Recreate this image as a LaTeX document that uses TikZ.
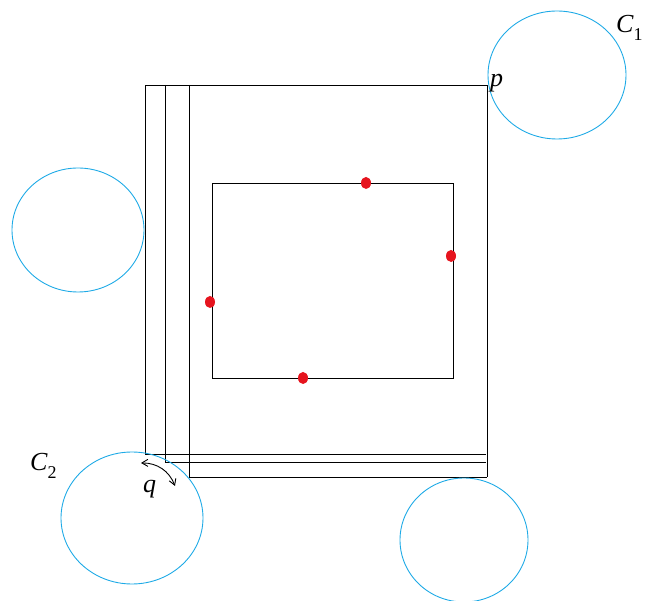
\documentclass[tikz,border=0pt]{standalone}
\usepackage{fontspec}
\setmainfont{Liberation Serif}
\usetikzlibrary{arrows.meta}
\definecolor{cblue}{RGB}{30,170,230}
\definecolor{dotred}{RGB}{230,20,30}
\tikzset{
  frame/.style={black, line width=0.9pt},
  circ/.style={cblue, line width=0.9pt},
  rdot/.style={fill=dotred, draw=none},
  lbl/.style={font=\fontsize{26}{30}\selectfont\itshape, inner sep=0pt}
}
\newcommand{\subsc}[1]{\raisebox{-0.3em}{\fontsize{18}{21}\selectfont\upshape #1}}
\begin{document}
\begin{tikzpicture}[x=1pt,y=-1pt]
\useasboundingbox (0,0) rectangle (646,601);
% nested frames
\draw[frame] (145,454) -- (145,85) -- (487,85) -- (487,477);
\draw[frame] (145,454) -- (486,454);
\draw[frame] (165,85) -- (165,462) -- (486,462);
\draw[frame] (189,85) -- (189,477) -- (487,477);
% inner rectangle
\draw[frame] (212,183) rectangle (453,378);
\fill[rdot] (366,183) ellipse (5 and 6);
\fill[rdot] (451,256) ellipse (5 and 6);
\fill[rdot] (210,302) ellipse (5 and 6);
\fill[rdot] (303,378) ellipse (5 and 6);
% circles
\draw[circ] (557,75) ellipse (69 and 64);
\draw[circ] (78,230) ellipse (66 and 62);
\draw[circ] (132,518) ellipse (71 and 66);
\draw[circ] (464,540) ellipse (64 and 62);
% labels
\node[lbl, anchor=base west] (c1) at (616,33) {C\subsc{1}};
\node[lbl, anchor=base west] (p) at (490,87) {p};
\node[lbl, anchor=base west] (c2) at (30,471) {C\subsc{2}};
\node[lbl, anchor=base west] (q) at (143,493) {q};
\coordinate (qa) at (141,463);
\coordinate (qb) at (175,486);
\draw[line width=0.9pt, {Straight Barb[length=6pt,width=7pt]}-{Straight Barb[length=6pt,width=7pt]}] (qa) to[bend left=35] (qb);
\end{tikzpicture}
\end{document}
